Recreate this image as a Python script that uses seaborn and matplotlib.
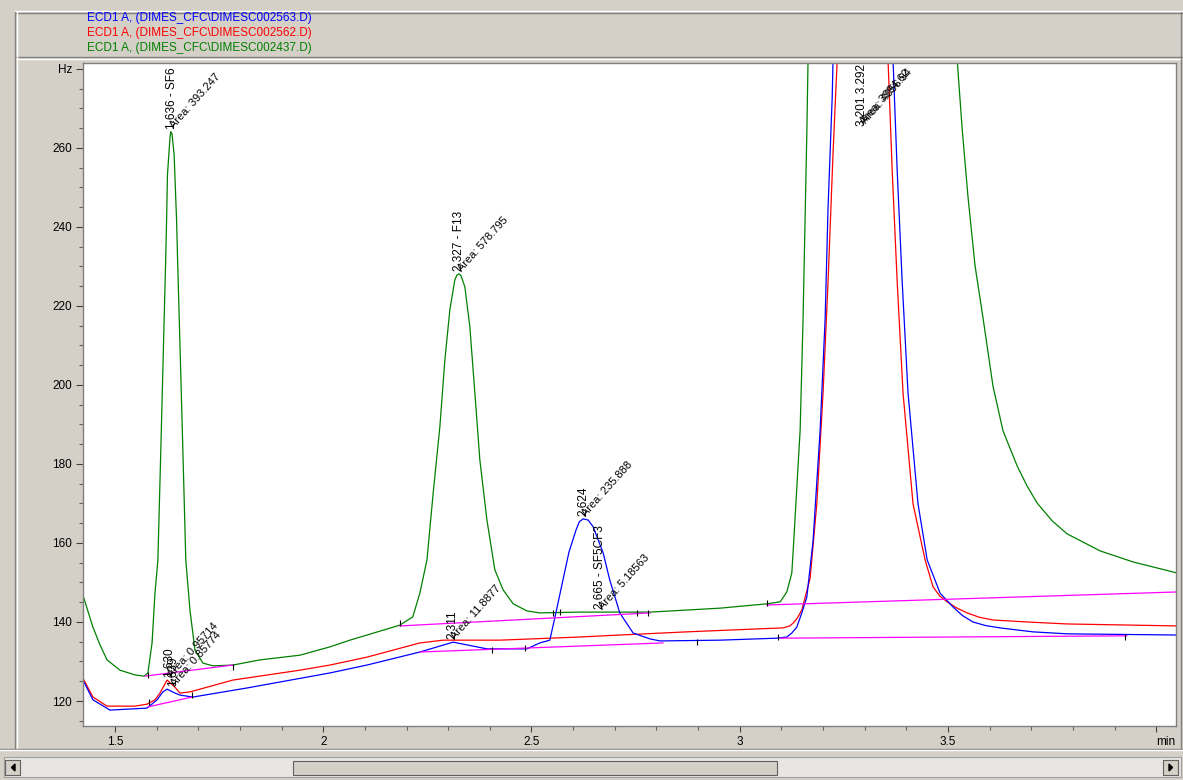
import matplotlib
matplotlib.use("Agg")
import numpy as np
import pandas as pd
import seaborn as sns
import matplotlib.pyplot as plt
from matplotlib.patches import Rectangle, Polygon
from matplotlib.lines import Line2D
from matplotlib.ticker import MultipleLocator, FixedLocator, FixedFormatter

# ---------------- data ----------------
legend_files = ["ECD1 A, (DIMES_CFC\\DIMESC002563.D)",
                "ECD1 A, (DIMES_CFC\\DIMESC002562.D)",
                "ECD1 A, (DIMES_CFC\\DIMESC002437.D)"]

green_t = [1.423, 1.447, 1.464, 1.481, 1.512, 1.548, 1.570, 1.579, 1.589, 1.596,
           1.603, 1.610, 1.622, 1.624, 1.626, 1.632, 1.634, 1.637, 1.642, 1.648,
           1.650, 1.661, 1.670, 1.680, 1.692, 1.711, 1.735, 1.783, 1.848, 1.944,
           2.016, 2.064, 2.184, 2.215, 2.232, 2.249, 2.264, 2.280, 2.292, 2.304,
           2.316, 2.321, 2.326, 2.331, 2.340, 2.352, 2.364, 2.376, 2.393, 2.412,
           2.432, 2.456, 2.489, 2.520, 2.616, 2.712, 2.785, 2.953, 3.065, 3.097,
           3.113, 3.125, 3.128, 3.145, 3.152, 3.161, 3.164, 3.340, 3.522, 3.534,
           3.548, 3.565, 3.584, 3.608, 3.632, 3.666, 3.690, 3.714, 3.750, 3.786,
           3.865, 3.944, 4.050]
green_v = [146.8, 138.7, 134.2, 130.4, 127.8, 126.6, 126.3, 127.1, 134.7, 147.3,
           155.7, 183.5, 232.9, 242.3, 253.2, 262.5, 264.1, 263.5, 258.2, 241.3,
           232.9, 191.1, 155.7, 143.0, 132.9, 129.6, 128.9, 129.1, 130.4, 131.6,
           133.7, 135.4, 139.2, 141.3, 147.3, 155.7, 172.7, 189.4, 206.3, 219.0,
           226.6, 227.8, 228.1, 227.6, 224.8, 214.7, 198.0, 181.0, 165.8, 153.2,
           148.1, 144.6, 142.8, 142.3, 142.5, 142.5, 142.5, 143.5, 144.6, 145.1,
           147.6, 152.4, 157.5, 188.6, 216.7, 263.5, 282.3, 520.0, 282.3, 264.8,
           247.6, 230.1, 217.0, 199.7, 188.4, 179.5, 174.4, 170.1, 165.6, 162.3,
           158.0, 155.2, 152.4]

red_t = [1.423, 1.447, 1.481, 1.548, 1.577, 1.596, 1.608, 1.625, 1.644, 1.656,
         1.680, 1.783, 1.944, 2.016, 2.105, 2.232, 2.288, 2.345, 2.424, 2.616,
         2.712, 2.873, 3.032, 3.104, 3.120, 3.128, 3.137, 3.149, 3.169, 3.185,
         3.200, 3.212, 3.224, 3.234, 3.295, 3.356, 3.366, 3.378, 3.392, 3.416,
         3.445, 3.464, 3.480, 3.498, 3.520, 3.546, 3.575, 3.608, 3.690, 3.786,
         4.050]
red_v = [125.8, 121.0, 118.7, 118.7, 119.2, 120.3, 122.0, 125.3, 123.5, 122.0,
         122.3, 125.3, 127.8, 129.1, 131.1, 134.7, 135.4, 135.4, 135.4, 136.2,
         136.7, 137.5, 138.2, 138.5, 139.0, 139.7, 140.8, 143.0, 151.1, 169.9,
         198.0, 226.1, 258.7, 282.3, 480.0, 282.3, 254.2, 226.1, 198.0, 169.9,
         155.7, 148.9, 146.6, 145.1, 143.6, 142.3, 141.2, 140.5, 140.0, 139.5,
         139.0]

blue_t = [1.423, 1.447, 1.488, 1.577, 1.601, 1.615, 1.625, 1.644, 1.656, 1.687,
          1.817, 2.016, 2.105, 2.232, 2.312, 2.345, 2.393, 2.489, 2.520, 2.544,
          2.559, 2.573, 2.590, 2.607, 2.615, 2.624, 2.636, 2.648, 2.672, 2.688,
          2.712, 2.744, 2.785, 2.809, 2.953, 3.089, 3.113, 3.125, 3.137, 3.149,
          3.161, 3.176, 3.193, 3.205, 3.212, 3.222, 3.224, 3.295, 3.368, 3.378,
          3.390, 3.404, 3.428, 3.450, 3.481, 3.512, 3.535, 3.560, 3.590, 3.625,
          3.704, 3.786, 4.050]
blue_v = [125.3, 120.3, 117.7, 118.2, 120.3, 122.3, 123.0, 122.0, 121.5, 121.0,
          123.3, 127.1, 129.1, 132.4, 134.9, 134.2, 133.2, 133.2, 134.7, 135.4,
          142.5, 149.4, 157.7, 163.3, 165.4, 166.1, 165.8, 164.1, 157.5, 150.6,
          142.3, 137.2, 135.7, 135.2, 135.4, 135.9, 136.2, 137.2, 138.7, 142.3,
          146.3, 160.5, 188.6, 216.7, 244.8, 272.9, 282.3, 500.0, 282.3, 254.2,
          226.1, 198.0, 169.9, 155.7, 147.3, 143.8, 141.6, 140.0, 139.1, 138.5,
          137.5, 137.0, 136.7]

# integration baselines (start time, start value, end time, end value)
base_t0 = [1.572, 1.579, 2.184, 3.065, 2.232, 3.097]
base_v0 = [126.3, 118.5, 139.0, 144.3, 132.4, 135.9]
base_t1 = [1.783, 1.685, 2.785, 4.050, 2.816, 3.930]
base_v1 = [129.1, 121.0, 142.3, 147.6, 134.7, 136.5]

# integration event marks
mark_t = [1.579, 1.582, 1.685, 1.783, 2.184, 2.405, 2.484, 2.552, 2.568,
          2.753, 2.780, 2.898, 3.065, 3.092, 3.925]
mark_v = [126.6, 119.7, 121.5, 128.6, 139.7, 132.9, 133.4, 142.3, 142.5,
          142.3, 142.3, 134.9, 144.8, 136.2, 136.2]

# peak annotations
peak_t = [1.636, 2.327, 2.624, 2.665, 2.311, 1.630, 1.639]
peak_v = [264.1, 228.1, 166.1, 142.5, 134.9, 125.3, 123.0]
peak_name = ["1.636 - SF6", "2.327 - F13", "2.624", "2.665 - SF5CF3", "2.311",
             "1.630", "1.639"]
peak_area = ["Area: 393.247", "Area: 578.795", "Area: 235.888", "Area: 5.18563",
             "Area: 11.8877", "Area: 0.95714", "Area: 0.85774"]
big_peak_t = 3.293
big_peak_name = "3.201 3.292 - F12"
big_peak_area = ["Area: 3994.62", "Area: 4056.94"]

x_major = [1.5, 2.0, 2.5, 3.0, 3.5, 4.0]
x_major_lbl = ["1.5", "2", "2.5", "3", "3.5", "min"]
y_major = [120, 140, 160, 180, 200, 220, 240, 260, 280]
y_major_lbl = ["120", "140", "160", "180", "200", "220", "240", "260", "Hz"]

colors = {"blue": "#0000ff", "red": "#ff0000", "green": "#008000"}
legend_colors = ["#0000ff", "#ff0000", "#008000"]

# ---------------- figure ----------------
sns.set_style("white")
plt.rcParams["font.family"] = ["Liberation Sans", "DejaVu Sans"]

W, H = 1183, 780
fig = plt.figure(figsize=(W / 100, H / 100), dpi=100)
fig.patch.set_facecolor("#d4d0c8")


def fx(x):
    return x / W


def fy(y):
    return 1 - y / H


def hline(x0, x1, y, c, lw=1.0):
    fig.add_artist(Line2D([fx(x0), fx(x1)], [fy(y), fy(y)], color=c, lw=lw,
                          transform=fig.transFigure))


def vline(x, y0, y1, c, lw=1.0):
    fig.add_artist(Line2D([fx(x), fx(x)], [fy(y0), fy(y1)], color=c, lw=lw,
                          transform=fig.transFigure))


# window frame lines
hline(15, 1183, 11, "#ffffff")
hline(15, 1183, 12.5, "#808080")
hline(15, 1183, 57, "#808080")
hline(15, 1183, 58.5, "#ffffff")
vline(15, 12, 748, "#808080")
vline(16.5, 12, 748, "#ffffff")
vline(1181, 12, 748, "#808080")
hline(0, 1183, 748.5, "#808080")
hline(0, 1183, 750, "#ffffff")

# legend panel text
for i, (txt, c) in enumerate(zip(legend_files, legend_colors)):
    fig.text(fx(87), fy(18.5 + 14.8 * i), txt, color=c, fontsize=8.5,
             ha="left", va="center")

# scrollbar
fig.add_artist(Rectangle((fx(4), fy(777)), fx(1177), 20 / H, transform=fig.transFigure,
                         facecolor="#e8e6e2", edgecolor="#a0a0a0", lw=0.8))
for bx in (5, 1163):
    fig.add_artist(Rectangle((fx(bx), fy(775)), fx(15), 15 / H, transform=fig.transFigure,
                             facecolor="#d4d0c8", edgecolor="#606060", lw=0.8))
fig.add_artist(Polygon([[fx(15), fy(764)], [fx(15), fy(771)], [fx(11.5), fy(767.5)]],
                       closed=True, transform=fig.transFigure, color="black"))
fig.add_artist(Polygon([[fx(1169), fy(764)], [fx(1169), fy(771)], [fx(1172.5), fy(767.5)]],
                       closed=True, transform=fig.transFigure, color="black"))
fig.add_artist(Rectangle((fx(293), fy(775)), fx(777 - 293), 14 / H, transform=fig.transFigure,
                         facecolor="#d4d0c8", edgecolor="#606060", lw=0.8))

# ---------------- axes ----------------
ax = fig.add_axes([fx(83), fy(725.7), fx(1176 - 83), (725.7 - 62.5) / H])
ax.set_facecolor("white")

df = pd.concat([
    pd.DataFrame({"time": green_t, "signal": green_v, "trace": "green"}),
    pd.DataFrame({"time": red_t, "signal": red_v, "trace": "red"}),
    pd.DataFrame({"time": blue_t, "signal": blue_v, "trace": "blue"}),
], ignore_index=True)

sns.lineplot(data=df, x="time", y="signal", hue="trace", palette=colors,
             hue_order=["green", "red", "blue"], sort=False, estimator=None,
             legend=False, lw=0.9, ax=ax)

base_df = pd.DataFrame({
    "time": base_t0 + base_t1,
    "signal": base_v0 + base_v1,
    "seg": list(range(len(base_t0))) * 2,
})
sns.lineplot(data=base_df, x="time", y="signal", units="seg", estimator=None,
             sort=False, color="#ff00ff", lw=0.9, ax=ax)

ax.plot(mark_t, mark_v, ls="none", marker="|", ms=5, mew=0.8, color="black")

# peak labels
for t, v, name, area in zip(peak_t, peak_v, peak_name, peak_area):
    ax.annotate(name, xy=(t, v), xytext=(0, 3), textcoords="offset pixels",
                rotation=90, rotation_mode="anchor", ha="left", va="center",
                fontsize=8.5, color="black", annotation_clip=False, clip_on=True)
    ax.annotate(area, xy=(t, v), xytext=(4, 1), textcoords="offset pixels",
                rotation=48, rotation_mode="anchor", ha="left", va="bottom",
                fontsize=8, color="black", annotation_clip=False, clip_on=True)

ytop = 281.6
ax.annotate(big_peak_name, xy=(big_peak_t, ytop), xytext=(0, -63),
            textcoords="offset pixels", rotation=90, rotation_mode="anchor",
            ha="left", va="center", fontsize=8.5, color="black", clip_on=True)
for k, area in enumerate(big_peak_area):
    ax.annotate(area, xy=(big_peak_t, ytop), xytext=(4 + 2 * k, -64 + k),
                textcoords="offset pixels", rotation=48, rotation_mode="anchor",
                ha="left", va="bottom", fontsize=8, color="black", clip_on=True)

ax.set_xlim(1.4232, 4.0474)
ax.set_ylim(113.75, ytop)
ax.set_xlabel("")
ax.set_ylabel("")

ax.xaxis.set_major_locator(FixedLocator(x_major))
ax.xaxis.set_major_formatter(FixedFormatter(x_major_lbl))
ax.xaxis.set_minor_locator(MultipleLocator(0.1))
ax.yaxis.set_major_locator(FixedLocator(y_major))
ax.yaxis.set_major_formatter(FixedFormatter(y_major_lbl))
ax.yaxis.set_minor_locator(MultipleLocator(5))

ax.tick_params(axis="both", which="major", direction="out", width=0.8,
               color="#404040", labelsize=8.5, labelcolor="black", pad=3,
               bottom=True, left=True)
ax.tick_params(axis="x", which="major", length=4.5)
ax.tick_params(axis="y", which="major", length=5)
ax.tick_params(axis="both", which="minor", direction="out", length=3, width=0.8,
               color="#606060", bottom=True, left=True)
for lbl in ax.get_xticklabels():
    if lbl.get_text() == "min":
        lbl.set_ha("left")

for side, sp in ax.spines.items():
    sp.set_visible(True)
    sp.set_color("#808080")
    sp.set_linewidth(1.0)

fig.savefig("out.png", dpi=100, facecolor=fig.get_facecolor())
